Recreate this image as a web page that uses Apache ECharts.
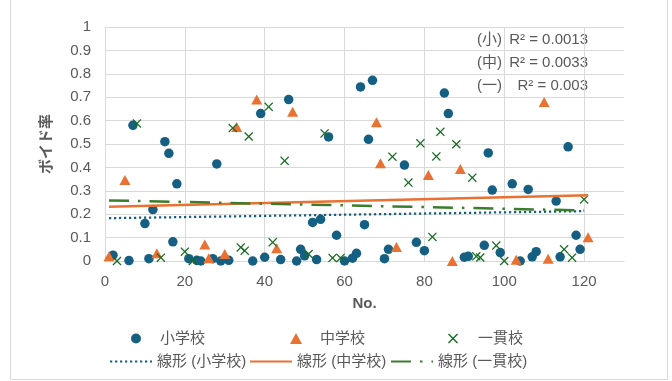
<!DOCTYPE html>
<html>
<head>
<meta charset="utf-8">
<script src="https://cdn.jsdelivr.net/npm/echarts@6/dist/echarts.min.js"></script>
<style>
html,body{margin:0;padding:0;background:#fff;}
#chart{width:672px;height:381px;}
</style>
</head>
<body>
<div id="chart"></div>
<script>
// ---- data ----
const elementary = [
  [2,0.025],[6,0.002],[7,0.58],[10,0.16],[11,0.01],[12,0.22],[15,0.51],[16,0.46],[17,0.082],[18,0.33],
  [21,0.01],[23,0.003],[24,0.0],[27,0.01],[28,0.415],[29,0.0],[31,0.003],[37,0.0],[39,0.63],[40,0.016],
  [44,0.006],[46,0.69],[48,0.0],[49,0.05],[50,0.022],[52,0.165],[53,0.006],[54,0.178],[56,0.53],[58,0.11],
  [60,0.0],[62,0.012],[63,0.033],[64,0.744],[65,0.155],[66,0.52],[67,0.772],[70,0.01],[71,0.05],[75,0.41],
  [78,0.08],[80,0.044],[85,0.718],[86,0.63],[90,0.016],[91,0.02],[95,0.067],[96,0.462],[97,0.303],[99,0.036],
  [102,0.33],[104,0.0],[106,0.306],[107,0.018],[108,0.04],[113,0.256],[114,0.018],[116,0.488],[118,0.11],[119,0.05]
];
const juniorHigh = [
  [1,0.02],[5,0.346],[13,0.033],[25,0.07],[26,0.012],[30,0.03],[33,0.573],[38,0.69],[43,0.055],[47,0.638],
  [68,0.593],[69,0.418],[73,0.06],[81,0.367],[87,0.0],[89,0.393],[103,0.005],[110,0.68],[111,0.01],[121,0.102]
];
const integrated = [
  [3,0.0],[8,0.588],[14,0.014],[20,0.04],[22,0.0],[32,0.568],[34,0.058],[35,0.044],[36,0.532],[41,0.659],
  [42,0.08],[45,0.428],[51,0.03],[55,0.545],[57,0.013],[59,0.013],[72,0.446],[76,0.335],[79,0.503],[82,0.103],
  [83,0.447],[84,0.552],[88,0.499],[92,0.356],[93,0.02],[94,0.015],[98,0.066],[100,0.0],[115,0.05],[117,0.014],[120,0.263]
];
// linear trend lines (end points)
const trendElementary = [[1,0.183],[120,0.213]];
const trendJuniorHigh = [[1,0.232],[121,0.281]];
const trendIntegrated = [[1,0.259],[120,0.216]];

const seriesNames = ['小学校','中学校','一貫校'];
const trendNames = ['線形 (小学校)','線形 (中学校)','線形 (一貫校)'];
const r2Labels = ['(小)','(中)','(一)'];
const r2Values = ['R² = 0.0013','R² = 0.0033','R² = 0.003'];
const xTitle = 'No.';
const yTitle = 'ボイド率';

// ---- styles ----
const FONT = '"Liberation Sans", "Noto Sans CJK JP", sans-serif';
const TXT = '#595959';
const GRID = '#d9d9d9';
const BLUE = '#156082', ORANGE = '#E97132', GREEN = '#196B24', GREEN_LINE = '#3a7d2c';
const CROSS = 'path://M1,0 L5,4 L9,0 L10,1 L6,5 L10,9 L9,10 L5,6 L1,10 L0,9 L4,5 L0,1 Z';

const chart = echarts.init(document.getElementById('chart'), null, {renderer:'canvas'});

function legendAt(name, left, top, w, h, pad, hideSymbol) {
  const lg = {
    data: [name], left: left, top: top, itemWidth: w, itemHeight: h,
    selectedMode: false, padding: 0,
    textStyle: {fontFamily: FONT, fontSize: 15, color: TXT, padding: [0,0,0,pad]}
  };
  if (hideSymbol) lg.itemStyle = {opacity: 0};
  return lg;
}

const r2Graphics = [];
r2Labels.forEach((lab, i) => {
  const y = 40 + i * 23;
  r2Graphics.push({type:'text', x: 502, y: y, style:{text: lab, align:'right', verticalAlign:'middle', font: '15px ' + FONT, fill: TXT}});
  r2Graphics.push({type:'text', x: 588, y: y, style:{text: r2Values[i], align:'right', verticalAlign:'middle', font: '15px ' + FONT, fill: TXT}});
});

chart.setOption({
  animation: false,
  backgroundColor: '#fff',
  grid: {left: 105, right: 48, top: 27, bottom: 120, containLabel: false},
  xAxis: {
    type: 'value', min: 0, max: 130, interval: 20,
    name: xTitle, nameLocation: 'middle', nameGap: 35,
    nameTextStyle: {fontFamily: FONT, fontSize: 15, fontWeight: 'bold', color: TXT},
    axisLine: {show: true, lineStyle: {color: GRID, width: 1}},
    axisTick: {show: false},
    axisLabel: {fontFamily: FONT, fontSize: 15, color: TXT, margin: 13, showMaxLabel: false},
    splitLine: {show: true, showMaxLine: false, lineStyle: {color: GRID, width: 1}}
  },
  yAxis: {
    type: 'value', min: 0, max: 1, interval: 0.1,
    name: yTitle, nameLocation: 'middle', nameGap: 51,
    nameTextStyle: {fontFamily: FONT, fontSize: 15, fontWeight: 'bold', color: TXT},
    axisLine: {show: true, lineStyle: {color: GRID, width: 1}},
    axisTick: {show: false},
    axisLabel: {fontFamily: FONT, fontSize: 15, color: TXT, margin: 14},
    splitLine: {show: true, lineStyle: {color: GRID, width: 1}}
  },
  legend: [
    legendAt(seriesNames[0], 131, 331, 10, 10, 14, false),
    legendAt(seriesNames[1], 290, 331, 12, 11, 13, false),
    legendAt(seriesNames[2], 448, 331, 10, 10, 15, false),
    legendAt(trendNames[0], 109, 354, 42, 14, 0, true),
    legendAt(trendNames[1], 249, 354, 42, 14, 0, true),
    legendAt(trendNames[2], 390, 354, 42, 14, 0, true)
  ],
  series: [
    {name: seriesNames[0], type: 'scatter', data: elementary, symbol: 'circle', symbolSize: 9.5,
     itemStyle: {color: BLUE, opacity: 1}, z: 2},
    {name: seriesNames[1], type: 'scatter', data: juniorHigh, symbol: 'triangle', symbolSize: [11, 10],
     itemStyle: {color: ORANGE, opacity: 1}, z: 3},
    {name: seriesNames[2], type: 'scatter', data: integrated, symbol: CROSS, symbolSize: 9,
     itemStyle: {color: GREEN, opacity: 1}, z: 4},
    {name: trendNames[0], type: 'line', data: trendElementary, showSymbol: false, symbol: 'none',
     lineStyle: {color: BLUE, width: 2.25, type: [2.25, 2.75], cap: 'butt'}, itemStyle: {color: BLUE}, z: 5},
    {name: trendNames[1], type: 'line', data: trendJuniorHigh, showSymbol: false, symbol: 'none',
     lineStyle: {color: ORANGE, width: 2.5, type: 'solid'}, itemStyle: {color: ORANGE}, z: 5},
    {name: trendNames[2], type: 'line', data: trendIntegrated, showSymbol: false, symbol: 'none',
     lineStyle: {color: GREEN_LINE, width: 2.5, type: [20, 9, 2.5, 9]}, itemStyle: {color: GREEN_LINE}, z: 5}
  ],
  graphic: [
    {type: 'rect', shape: {x: 10.5, y: -5, width: 657, height: 384.5}, style: {fill: 'none', stroke: GRID, lineWidth: 1}, silent: true, z: -1}
  ].concat(r2Graphics)
});
</script>
</body>
</html>
